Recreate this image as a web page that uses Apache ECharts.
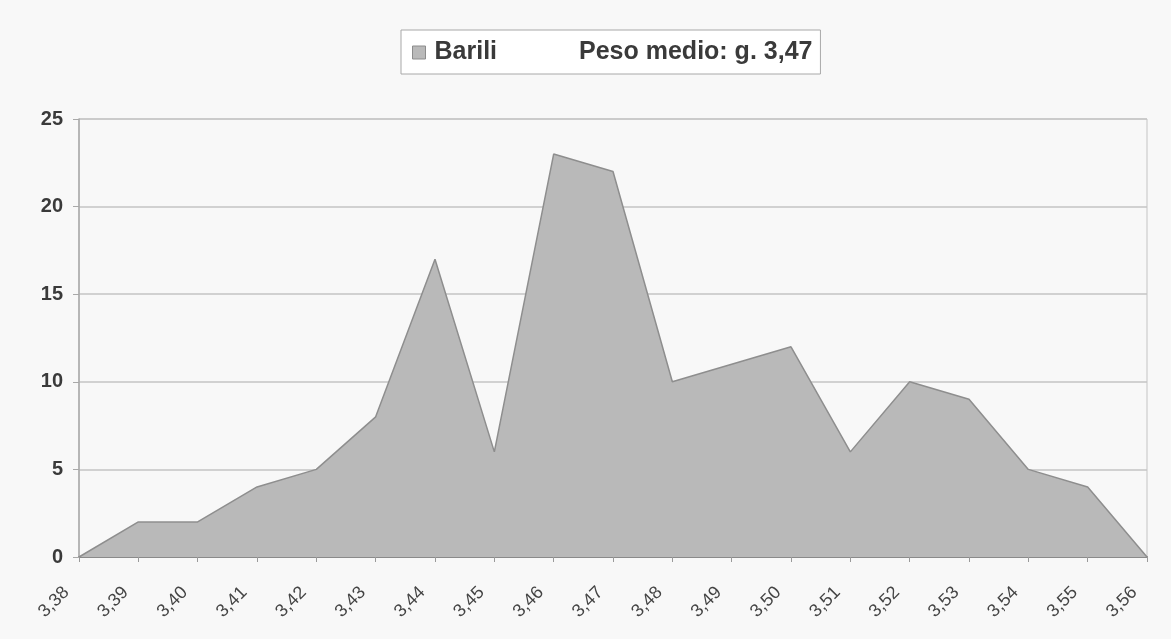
<!DOCTYPE html>
<html>
<head>
<meta charset="utf-8">
<script src="https://cdn.jsdelivr.net/npm/echarts@6/dist/echarts.min.js"></script>
<style>
  html, body { margin: 0; padding: 0; background: #f8f8f8; }
  #chart { width: 1171px; height: 639px; }
</style>
</head>
<body>
<div id="chart"></div>
<script>
// ---- data ----
const categories = ['3,38','3,39','3,40','3,41','3,42','3,43','3,44','3,45','3,46','3,47',
                    '3,48','3,49','3,50','3,51','3,52','3,53','3,54','3,55','3,56'];
const barili = [0, 2, 2, 4, 5, 8, 17, 6, 23, 22, 10, 11, 12, 6, 10, 9, 5, 4, 0];
const seriesName = 'Barili';
const legendNote = 'Peso medio: g. 3,47';
const yMin = 0, yMax = 25, yStep = 5;

const chart = echarts.init(document.getElementById('chart'));
chart.setOption({
  backgroundColor: '#f8f8f8',
  animation: false,
  legend: {
    left: 401,
    top: 30,
    data: [seriesName],
    backgroundColor: '#ffffff',
    borderColor: '#a8a8a8',
    borderWidth: 1,
    padding: [10, 8, 9, 11],
    itemWidth: 13,
    itemHeight: 13,
    icon: 'rect',
    itemStyle: { color: '#b9b9b9', borderColor: '#8c8c8c', borderWidth: 1 },
    formatter: function (name) { return '{a|' + name + '}{b|' + legendNote + '}'; },
    textStyle: {
      rich: {
        a: { fontFamily: 'Liberation Sans, Arial, sans-serif', fontWeight: 'bold', fontSize: 25, color: '#3a3a3a', padding: [0, 0, 0, 4], lineHeight: 26 },
        b: { fontFamily: 'Liberation Sans, Arial, sans-serif', fontWeight: 'bold', fontSize: 25, color: '#3a3a3a', padding: [0, 0, 0, 82], lineHeight: 26 }
      }
    }
  },
  grid: {
    left: 79, right: 24, top: 119, bottom: 82,
    show: true, borderColor: '#c4c4c4', borderWidth: 1, backgroundColor: 'transparent'
  },
  xAxis: {
    type: 'category',
    data: categories,
    boundaryGap: false,
    axisLine: { show: true, lineStyle: { color: '#8a8a8a', width: 2 } },
    axisTick: { show: true, alignWithLabel: true, length: 5, lineStyle: { color: '#9a9a9a' } },
    axisLabel: {
      rotate: 45, interval: 0, margin: 20, padding: [0, 18, 0, 0],
      fontFamily: 'Liberation Sans, Arial, sans-serif', fontSize: 18, color: '#444'
    },
    splitLine: { show: false }
  },
  yAxis: {
    type: 'value',
    min: yMin, max: yMax, interval: yStep,
    axisLine: { show: true, lineStyle: { color: '#a8a8a8', width: 1.5 } },
    axisTick: { show: true, length: 6, lineStyle: { color: '#a8a8a8' } },
    axisLabel: {
      margin: 16,
      fontFamily: 'Liberation Sans, Arial, sans-serif', fontWeight: 'bold', fontSize: 20, color: '#3a3a3a'
    },
    splitLine: { show: true, lineStyle: { color: '#c4c4c4', width: 1.5 } }
  },
  series: [{
    name: seriesName,
    type: 'line',
    data: barili,
    symbol: 'none',
    lineStyle: { color: '#8e8e8e', width: 1.5 },
    areaStyle: { color: '#b9b9b9', opacity: 1 },
    z: 3
  }]
});
</script>
</body>
</html>
